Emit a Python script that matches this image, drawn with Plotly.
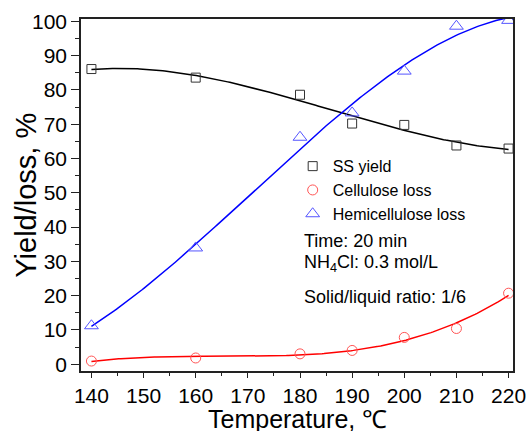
import numpy as np
import plotly.graph_objects as go

temperature = [140, 160, 180, 190, 200, 210, 220]
ss_yield = [86.1, 83.6, 78.6, 70.2, 69.8, 63.8, 62.9]
cellulose_loss = [0.9, 1.8, 3.0, 4.0, 7.8, 10.4, 20.7]
hemicellulose_loss = [11.2, 33.9, 66.2, 73.3, 85.5, 98.6, 100.3]

x_ticks = [140, 150, 160, 170, 180, 190, 200, 210, 220]
y_ticks = [0, 10, 20, 30, 40, 50, 60, 70, 80, 90, 100]

FONT = "Liberation Sans, Arial, sans-serif"

xs = np.linspace(min(temperature), max(temperature), 200)


def fit(y, deg=3):
    c = np.polyfit(temperature, y, deg)
    return np.polyval(c, xs)


fig = go.Figure()

series = [
    ("SS yield", ss_yield, "#000000", "#333333", "square-open", 9),
    ("Cellulose loss", cellulose_loss, "#FF0000", "#FF5555", "circle-open", 10),
    ("Hemicellulose loss", hemicellulose_loss, "#0000FF", "#5555FF", "triangle-up-open", 12),
]

for name, y, lc, mc, sym, sz in series:
    fig.add_trace(go.Scatter(x=xs, y=fit(y), mode="lines",
                             line=dict(color=lc, width=1.5),
                             showlegend=False, hoverinfo="skip"))
for name, y, lc, mc, sym, sz in series:
    fig.add_trace(go.Scatter(x=temperature, y=y, mode="markers", name=name,
                             marker=dict(symbol=sym, size=sz, color=mc,
                                         line=dict(color=mc, width=1))))

axis_common = dict(
    showline=True, linecolor="#222222", linewidth=1.5, mirror=True,
    ticks="outside", tickwidth=1.2, tickcolor="#222222",
    showgrid=False, zeroline=False, automargin=False,
    tickfont=dict(family=FONT, size=21, color="#000000"),
)

fig.update_xaxes(
    range=[138.0, 220.85], tickvals=x_ticks, ticklen=5,
    minor=dict(ticks="outside", ticklen=3, dtick=5, tick0=140, tickcolor="#222222", tickwidth=1.2),
    **axis_common,
)
fig.update_yaxes(
    range=[-2.0, 100.7], tickvals=y_ticks, ticklen=8,
    minor=dict(ticks="outside", ticklen=4, dtick=5, tick0=0, tickcolor="#222222", tickwidth=1.2),
    **axis_common,
)

fig.add_annotation(text="Temperature, \u2103", xref="paper", yref="paper", x=0.5, y=-0.137,
                   xanchor="center", yanchor="middle", showarrow=False,
                   font=dict(family=FONT, size=25, color="#000000"))
fig.add_annotation(text="Yield/loss, %", xref="paper", yref="paper", x=-0.128, y=0.5,
                   xanchor="center", yanchor="middle", textangle=-90, showarrow=False,
                   font=dict(family=FONT, size=29, color="#000000"))

annotations = [
    ("Time: 20 min", 0.369),
    ("NH<sub>4</sub>Cl: 0.3 mol/L", 0.305),
    ("Solid/liquid ratio: 1/6", 0.211),
]
for text, yy in annotations:
    fig.add_annotation(text=text, xref="paper", yref="paper", x=0.511, y=yy,
                       xanchor="left", yanchor="middle", showarrow=False,
                       font=dict(family=FONT, size=18, color="#000000"))

fig.update_layout(
    width=529, height=431,
    margin=dict(l=81, r=16, t=19, b=60, autoexpand=False),
    paper_bgcolor="#FFFFFF", plot_bgcolor="#FFFFFF",
    legend=dict(x=0.49, y=0.63, xanchor="left", yanchor="top",
                bgcolor="rgba(0,0,0,0)", font=dict(family=FONT, size=16, color="#000000"),
                itemwidth=30, tracegroupgap=0),
    showlegend=True,
)

fig.write_html("out.html", config={"displayModeBar": False},
               post_script="document.body.style.margin='0';")
